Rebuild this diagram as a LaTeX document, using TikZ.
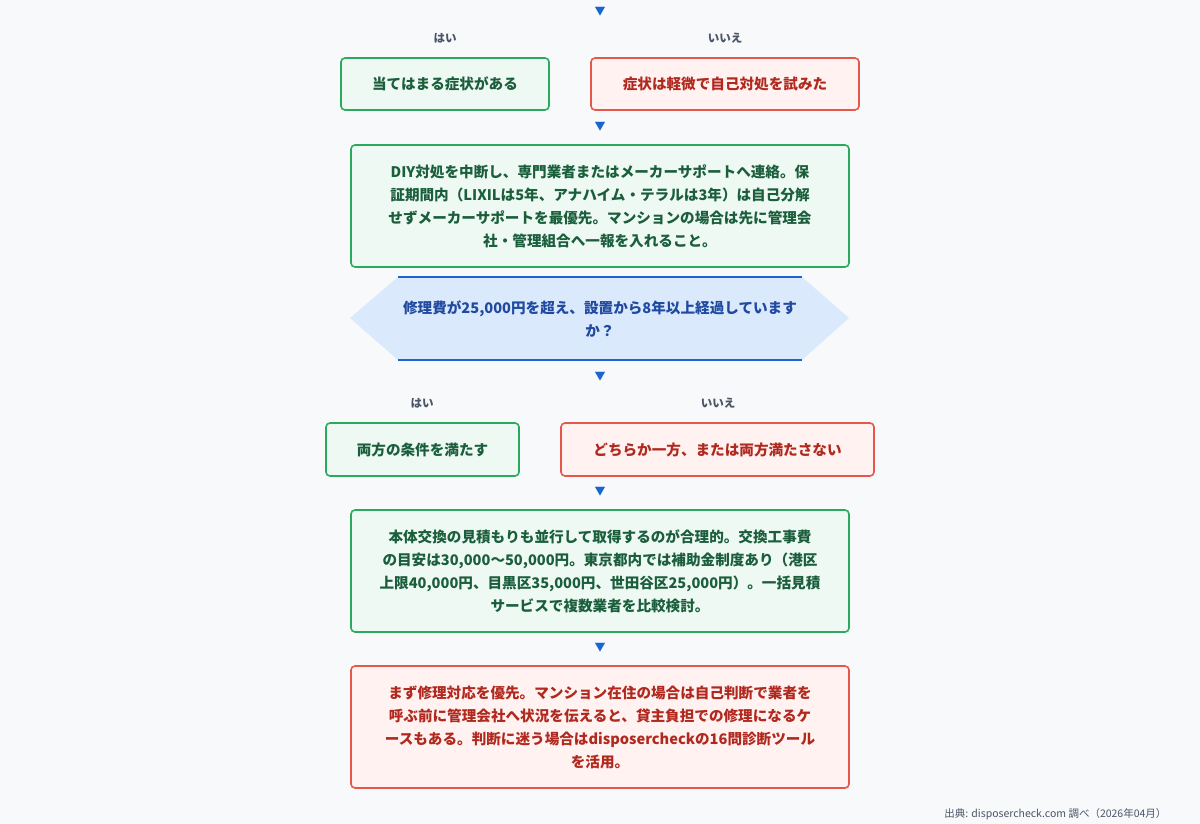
\documentclass[tikz,border=0pt]{standalone}
\usepackage{fontspec}
\setmainfont{Noto Sans CJK JP}
\usetikzlibrary{arrows.meta}
\definecolor{bg}{HTML}{F8F9FB}
\definecolor{gB}{HTML}{2BAA5E}\definecolor{gF}{HTML}{EEF9F3}\definecolor{gT}{HTML}{1B5E3C}
\definecolor{rB}{HTML}{E5574A}\definecolor{rF}{HTML}{FFF2F0}\definecolor{rT}{HTML}{B0281E}
\definecolor{bB}{HTML}{1A66D0}\definecolor{bF}{HTML}{DBE9FD}\definecolor{bT}{HTML}{1F4AA0}
\definecolor{lbl}{HTML}{4A5568}
\begin{document}
\begin{tikzpicture}[x=1pt,y=-1pt,
 box/.style={draw,line width=1.6pt,rounded corners=4pt,font=\bfseries\fontsize{14.6}{23}\selectfont,align=center,inner sep=0pt},
 g/.style={box,draw=gB,fill=gF,text=gT},
 r/.style={box,draw=rB,fill=rF,text=rT},
 lb/.style={font=\bfseries\fontsize{11.5}{13}\selectfont,text=lbl},
 ar/.style={text=bB,font=\fontsize{11}{12}\selectfont}]
\fill[bg] (0,0) rectangle (1200,824);
\useasboundingbox (0,0) rectangle (1200,824);
\node[ar] (a1) at (600,12) {▼};
\node[lb] (l1) at (445,38) {はい};
\node[lb] (l2) at (725,38) {いいえ};
\node[g,minimum width=208,minimum height=52] (b1) at (445,84) {当てはまる症状がある};
\node[r,minimum width=268,minimum height=52] (b2) at (725,84) {症状は軽微で自己対処を試みた};
\node[ar] (a2) at (600,127) {▼};
\node[g,minimum width=498,minimum height=122] (b3) at (600,206) {DIY対処を中断し、専門業者またはメーカーサポートへ連絡。保\\証期間内（LIXILは5年、アナハイム・テラルは3年）は自己分解\\せずメーカーサポートを最優先。マンションの場合は先に管理会\\社・管理組合へ一報を入れること。};
\fill[bF] (350,318) -- (398,277) -- (802,277) -- (849,318) -- (802,360) -- (398,360) -- cycle;
\draw[bB,line width=1.3pt] (398,277) -- (802,277) (398,360) -- (802,360);
\node[font=\bfseries\fontsize{14.6}{23}\selectfont,text=bT,align=center] (q) at (600,319) {修理費が25,000円を超え、設置から8年以上経過しています\\か？};
\node[ar] (a3) at (600,377) {▼};
\node[lb] (l3) at (422,403) {はい};
\node[lb] (l4) at (718,403) {いいえ};
\node[g,minimum width=193,minimum height=53] (b4) at (422.5,449.5) {両方の条件を満たす};
\node[r,minimum width=313,minimum height=53] (b5) at (717.5,449.5) {どちらか一方、または両方満たさない};
\node[ar] (a4) at (600,492) {▼};
\node[g,minimum width=498,minimum height=122] (b6) at (600,571) {本体交換の見積もりも並行して取得するのが合理的。交換工事費\\の目安は30,000〜50,000円。東京都内では補助金制度あり（港区\\上限40,000円、目黒区35,000円、世田谷区25,000円）。一括見積\\サービスで複数業者を比較検討。};
\node[ar] (a5) at (600,648) {▼};
\node[r,minimum width=498,minimum height=122] (b7) at (600,727) {まず修理対応を優先。マンション在住の場合は自己判断で業者を\\呼ぶ前に管理会社へ状況を伝えると、貸主負担での修理になるケ\\ースもある。判断に迷う場合はdisposercheckの16問診断ツール\\を活用。};
\node[font=\fontsize{10.5}{12}\selectfont,text=lbl,anchor=east] (src) at (1170,814) {出典: disposercheck.com 調べ（2026年04月）};
\end{tikzpicture}
\end{document}
